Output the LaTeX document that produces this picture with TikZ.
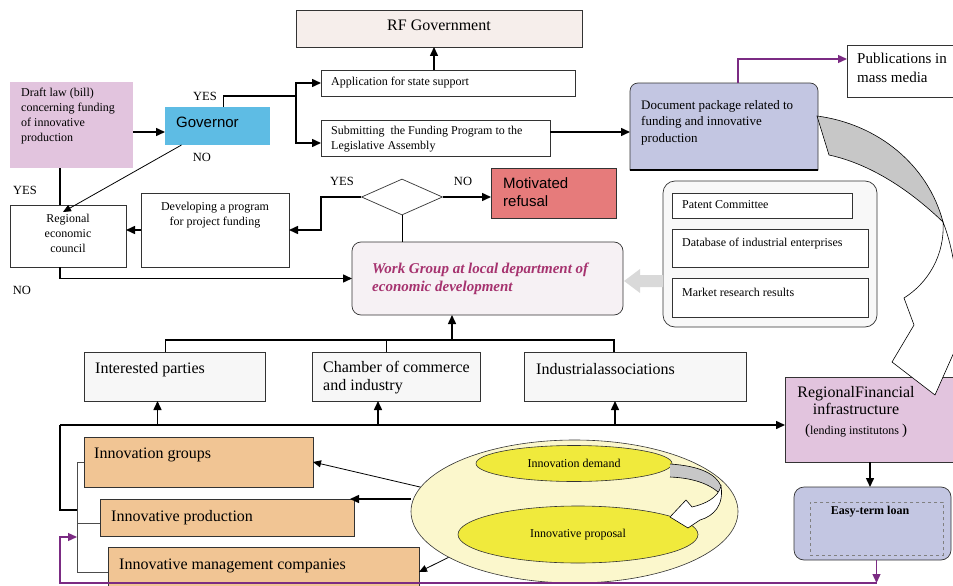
\documentclass[tikz,border=0pt]{standalone}
\usepackage{fontspec}
\setmainfont{Liberation Serif}
\setsansfont{Liberation Sans}
\usetikzlibrary{shapes.geometric,arrows.meta}
\definecolor{rfc}{HTML}{F6EEEB}
\definecolor{draftc}{HTML}{E2C4DE}
\definecolor{govc}{HTML}{5EBCE4}
\definecolor{refc}{HTML}{E67B7B}
\definecolor{wgc}{HTML}{F6F1F4}
\definecolor{wgtc}{HTML}{A6336F}
\definecolor{docc}{HTML}{C3C6E2}
\definecolor{contc}{HTML}{F8F8F8}
\definecolor{boxg}{HTML}{F7F7F7}
\definecolor{orc}{HTML}{F1C594}
\definecolor{palec}{HTML}{FBF7CC}
\definecolor{yelc}{HTML}{F0EA3C}
\definecolor{purp}{HTML}{7B2B83}
\definecolor{edge}{HTML}{333333}
\newcommand\myfs[2]{\fontsize{#1}{#2}\selectfont}
\begin{document}
\begin{tikzpicture}[x=1pt,y=-1pt,
  box/.style={draw=edge, line width=0.7pt, inner sep=0pt, outer sep=0pt, anchor=north west},
  tx/.style={inner sep=0pt, anchor=north west, align=left},
  tc/.style={inner sep=0pt, anchor=north, align=center},
  lab/.style={inner sep=0pt, font=\myfs{12.5}{15}},
  ln/.style={line width=1.5pt},
  tln/.style={line width=0.8pt},
  arr/.style={ln, -{Triangle[length=9pt,width=8pt]}},
  tarr/.style={tln, -{Triangle[length=8pt,width=7pt]}},
  parr/.style={line width=1.3pt, draw=purp, -{Triangle[length=9pt,width=8pt]}},
]
\useasboundingbox (0,0) rectangle (953,586);

% ---------- top area ----------
\node[box, fill=rfc, minimum width=286pt, minimum height=37pt] (rf) at (296,10) {};
\node[tc, font=\myfs{16}{19}] (rft) at (439,20) {RF Government};

\node[box, fill=white, minimum width=254pt, minimum height=26pt] (app) at (321,70) {};
\node[tx, font=\myfs{12}{15}] (appt) at (331,77) {Application for state support};

\node[box, fill=white, minimum width=229pt, minimum height=36pt] (sub) at (321,120) {};
\node[tx, font=\myfs{12}{15}] (subt) at (331,126) {Submitting\ \ the Funding Program to the\\Legislative Assembly};

\node[box, draw=none, fill=govc, minimum width=105pt, minimum height=38pt] (gov) at (165,107) {};
\node[tx, font=\sffamily\myfs{15}{18}] (govt) at (176,117) {Governor};

\node[box, draw=none, fill=draftc, minimum width=123pt, minimum height=86pt] (draft) at (10,82) {};
\node[tx, font=\myfs{12}{15}] (draftt) at (21,88) {Draft law (bill)\\concerning funding\\of innovative\\production};

\node[box, fill=white, minimum width=106pt, minimum height=52pt] (pub) at (847,45) {};
\node[tx, font=\myfs{15}{19}] (pubt) at (857,53) {Publications in\\mass media};

\node[box, draw=none, minimum width=188pt, minimum height=87pt] (doc) at (630,83) {};
\draw[fill=docc, draw=edge, line width=0.7pt] (doc.south west) [rounded corners=8pt] -- (doc.north west) -- (doc.north east) [sharp corners] -- (doc.south east) -- cycle;
\draw[line width=2pt] (doc.south west) -- (doc.south east);
\node[tx, font=\myfs{13}{16.5}] (doct) at (641,100) {Document package related to\\funding and innovative\\production};

% ---------- middle ----------
\node[box, fill=contc, rounded corners=12pt, minimum width=214pt, minimum height=146pt] (cont) at (663,181) {};
\node[box, fill=white, minimum width=180pt, minimum height=25pt] (pc) at (672,193) {};
\node[tx, font=\myfs{12}{15}] (pct) at (682,200) {Patent Committee};
\node[box, fill=white, minimum width=196pt, minimum height=38pt] (db) at (672,229) {};
\node[tx, font=\myfs{12}{15}] (dbt) at (682,238) {Database of industrial enterprises};
\node[box, fill=white, minimum width=196pt, minimum height=39pt] (mr) at (672,278) {};
\node[tx, font=\myfs{12}{15}] (mrt) at (682,288) {Market research results};

\node[box, fill=white, minimum width=116pt, minimum height=62pt] (council) at (10,205) {};
\node[tc, font=\myfs{12}{15}] (councilt) at (68,214) {Regional\\economic\\council};

\node[box, fill=white, minimum width=148pt, minimum height=74pt] (dev) at (141,193) {};
\node[tc, font=\myfs{12}{15}] (devt) at (215,202) {Developing a program\\for project funding};

\node[diamond, draw=edge, line width=0.7pt, fill=white, minimum width=81pt, minimum height=36pt, inner sep=0pt] (dia) at (402,197) {};

\node[box, fill=refc, line width=1pt, minimum width=125pt, minimum height=50pt] (ref) at (491,168) {};
\node[tx, font=\sffamily\myfs{15}{18}] (reft) at (503,177) {Motivated\\refusal};

\node[box, fill=wgc, rounded corners=9pt, minimum width=271pt, minimum height=73pt] (wg) at (352,242) {};
\node[tx, font=\bfseries\itshape\myfs{15}{18}, text=wgtc] (wgt) at (372,263) {Work Group at local department of\\economic development};

\fill[black!15] (663,275) -- (640,275) -- (640,269) -- (624,281) -- (640,293) -- (640,287) -- (663,287) -- cycle;

% ---------- row of three ----------
\node[box, fill=boxg, minimum width=181pt, minimum height=49pt] (ip) at (84,352) {};
\node[tx, font=\myfs{16}{18}] (ipt) at (95,362) {Interested parties};
\node[box, fill=boxg, minimum width=168pt, minimum height=49pt] (ch) at (312,352) {};
\node[tx, font=\myfs{16}{18}] (cht) at (323,361) {Chamber of commerce\\and industry};
\node[box, fill=boxg, minimum width=222pt, minimum height=49pt] (ia) at (524,352) {};
\node[tx, font=\myfs{16}{18}] (iat) at (536,363) {Industrialassociations};

% ---------- right bottom ----------
\node[box, fill=draftc, minimum width=170pt, minimum height=85pt] (regfin) at (785,377) {};
\node[tc, font=\myfs{16}{17}] (regfint) at (856,386) {RegionalFinancial\\infrastructure\\[3pt]{\myfs{15}{17}(}{\myfs{12}{14}lending institutons }{\myfs{15}{17})}};

\node[box, fill=docc, rounded corners=10pt, minimum width=157pt, minimum height=73pt] (loan) at (794,487) {};
\node[draw=gray, dashed, line width=0.6pt, inner sep=0pt, anchor=north west, minimum width=133pt, minimum height=53pt] (loanin) at (810,502) {};
\node[font=\bfseries\myfs{12}{14}, inner sep=0pt] (loant) at (870,512) {Easy-term loan};

% ---------- orange boxes ----------
\node[box, fill=orc, minimum width=229pt, minimum height=50pt] (ig) at (84,437) {};
\node[tx, font=\myfs{16}{18}] (igt) at (94,448) {Innovation groups};
\node[box, fill=orc, minimum width=254pt, minimum height=37pt] (ipd) at (100,499) {};
\node[tx, font=\myfs{16}{18}] (ipdt) at (111,510) {Innovative production};
\node[box, fill=orc, minimum width=311pt, minimum height=50pt] (mc) at (108,547) {};
\node[tx, font=\myfs{16}{18}] (mct) at (119,559) {Innovative management companies};

% ---------- ellipses ----------
\node[ellipse, draw=edge, line width=0.6pt, fill=palec, minimum width=327pt, minimum height=143pt, inner sep=0pt] (bige) at (574.5,511.5) {};
\node[ellipse, draw=edge, line width=0.6pt, fill=yelc, minimum width=196pt, minimum height=36pt, inner sep=0pt, font=\myfs{12}{14}] (dem) at (574,463.5) {Innovation demand};
\node[ellipse, draw=edge, line width=0.6pt, fill=yelc, minimum width=240pt, minimum height=57pt, inner sep=0pt, font=\myfs{12}{14}] (prop) at (578,534.5) {Innovative proposal};
\fill[black!22] (670,464) .. controls (700,466) and (716,474) .. (721,486) -- (721,495) .. controls (712,485) and (695,478) .. (670,477) -- cycle;
\draw[line width=0.6pt] (670,464) .. controls (700,466) and (716,474) .. (721,486);
\draw[line width=0.6pt] (721,495) .. controls (712,485) and (695,478) .. (670,477);
\draw[line width=0.6pt, fill=white] (721,486) .. controls (724,505) and (714,516) .. (700,520) -- (688,528) -- (670,517) -- (686,500) -- (692,507) .. controls (705,504) and (718,498) .. (721,486) -- cycle;

% ---------- big curved arrow ----------
\begin{scope}
\clip (0,0) rectangle (953,586);
\draw[fill=black!22, line width=0.6pt] (817,116) .. controls (878,124) and (928,165) .. (943,222) .. controls (915,195) and (875,165) .. (829,155) -- cycle;
\draw[fill=white, line width=0.6pt] (943,222) .. controls (958,260) and (962,320) .. (955,350) -- (935,395) -- (892,362) -- (914,325) -- (904,298) .. controls (928,283) and (945,255) .. (943,222) -- cycle;
\end{scope}

% ---------- labels ----------
\node[lab] (yes1) at (205,96) {YES};
\node[lab] (no1) at (202,157) {NO};
\node[lab] (yes2) at (25,190) {YES};
\node[lab] (no2) at (22,290) {NO};
\node[lab] (yes3) at (342,181) {YES};
\node[lab] (no3) at (463,181) {NO};

% ---------- connectors ----------
\coordinate (g1) at ([yshift=-6]gov.west);
\draw[arr] (g1 -| draft.east) -- (g1);
\coordinate (split) at (296,96);
\draw[ln] ([xshift=6]gov.north) |- (split);
\draw[arr] (split) |- (app.west);
\coordinate (s0) at ([yshift=-5]sub.west);
\draw[arr] (split) |- (s0);
\coordinate (a1) at ([xshift=-14]app.north);
\draw[arr] (a1) -- (a1 |- rf.south);
\coordinate (s1) at ([yshift=6]sub.east);
\draw[arr] (s1) -- (s1 -| doc.west);
\coordinate (d1) at ([xshift=14]doc.north);
\coordinate (p1) at ([yshift=12]pub.west);
\draw[parr] (d1) |- (p1);

\draw[tarr] ([xshift=-36]gov.south) -- ([shift={(-5,7)}]council.north);
\coordinate (c1) at ([xshift=-8]council.north);
\draw[ln] (c1) -- (c1 |- draft.south);
\coordinate (c2) at ([xshift=-8]council.south);
\draw[arr] (c2) |- (wg.west);
\draw[arr] (dev.west) -- (dev.west -| council.east);
\coordinate (cx) at (321,193);
\draw[arr] (dia.west) -- (dia.west -| cx) |- (dev.east);
\draw[arr] (dia.east) -- (dia.east -| ref.west);
\draw[tln] (dia.south) -- (dia.south |- wg.north);

\draw[ln] ([xshift=-9]ip.north) -- ++(0,-12) -| ([xshift=-21]ia.north);
\draw[tln] ([xshift=-10]ch.north) -- ++(0,-12);
\coordinate (b1) at (452,340);
\draw[arr] (b1) -- (b1 |- wg.south);

\coordinate (b2) at (60,425);
\draw[arr] (b2) -- (b2 -| regfin.west);
\coordinate (u1) at ([xshift=-17]ip.south);
\draw[arr] (u1 |- b2) -- (u1);
\coordinate (u2) at ([xshift=-18]ch.south);
\draw[arr] (u2 |- b2) -- (u2);
\coordinate (u3) at ([xshift=-20]ia.south);
\draw[arr] (u3 |- b2) -- (u3);
\coordinate (lv) at (77,510);
\draw[ln] (b2) |- (lv);
\coordinate (tr) at (77,0);
\draw[tln, draw=black!70] (ig.west) -| (mc.west -| tr) -- (mc.west);
\coordinate (p2) at ([yshift=-5.5]ipd.west);
\draw[tln, draw=black!70] (p2) -- (p2 -| tr);

\coordinate (l1) at ([xshift=4]loan.south);
\coordinate (pq) at (60,583);
\coordinate (pt) at (77,537);
\draw[parr] (l1) -- (l1 |- pq);
\draw[parr] (l1 |- pq) -- (pq) |- (pt);
\draw[arr] (regfin.south) -- (regfin.south |- loan.north);

\draw[tarr] (bige.171) -- (ig.east);
\draw[arr] (ipd.north east -| bige.west) -- ([xshift=-4]ipd.north east);
\draw[tarr] (bige.200) -- (mc.east);
\end{tikzpicture}
\end{document}
